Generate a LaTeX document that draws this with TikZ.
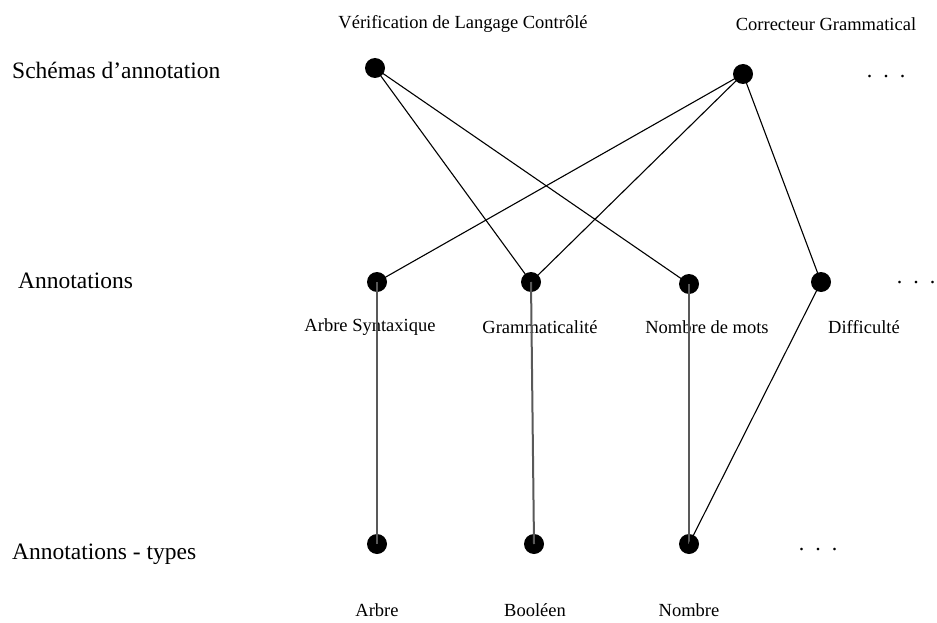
\documentclass[tikz,border=0pt]{standalone}
\usepackage{fontspec}
\setmainfont{Liberation Serif}
\usetikzlibrary{positioning}

\begin{document}
\begin{tikzpicture}[
    x=1pt, y=-1pt,
    dot/.style={circle, fill=black, inner sep=0pt, minimum width=18pt, minimum height=20pt},
    rowlabel/.style={anchor=west, inner sep=0pt, font=\fontsize{23.5}{27}\selectfont},
    lbl/.style={inner sep=0pt, font=\fontsize{18.5}{22}\selectfont},
    more/.style={inner sep=0pt, font=\fontsize{22}{26}\selectfont},
    link/.style={black, line width=1.1pt},
    typelink/.style={black!65, line width=2pt}
]
\useasboundingbox (0,0) rectangle (937,623);

% Rows
\node[rowlabel] (schemas) at (12,70) {Schémas d'annotation};
\node[rowlabel] (annot) at (18,281) {Annotations};
\node[rowlabel] (types) at (12,554) {Annotations - types};

% Annotation schemes
\node[dot] (vlc) at (375,68) {};
\node[dot] (cg) at (743,74) {};
\node[more] (moreS) at (886,77) {.\ \ .\ \ .};
\node[lbl] (vlcL) at (463,24) {Vérification de Langage Contrôlé};
\node[lbl] (cgL) at (826,24) {Correcteur Grammatical};

% Annotations
\node[dot] (syn) at (377,282) {};
\node[dot] (gram) at (531,282) {};
\node[dot] (nmots) at (689,284) {};
\node[dot] (diff) at (821,282) {};
\node[more] (moreA) at (916,283) {.\ \ .\ \ .};
\node[lbl] (synL) at (370,327) {Arbre Syntaxique};
\node[lbl] (gramL) at (540,327) {Grammaticalité};
\node[lbl] (nmotsL) at (707,327) {Nombre de mots};
\node[lbl] (diffL) at (864,327) {Difficulté};

% Types
\node[dot] (arbre) at (377,544) {};
\node[dot] (bool) at (534,544) {};
\node[dot] (nombre) at (689,544) {};
\node[more] (moreT) at (818,550) {.\ \ .\ \ .};
\node[lbl] (arbreL) at (377,610) {Arbre};
\node[lbl] (boolL) at (535,610) {Booléen};
\node[lbl] (nombreL) at (689,610) {Nombre};

% Connections
\draw[link] (vlc.center) -- (gram.center);
\draw[link] (vlc.center) -- (nmots.center);
\draw[link] (cg.center) -- (syn.center);
\draw[link] (cg.center) -- (gram.center);
\draw[link] (cg.center) -- (diff.center);
\draw[typelink] (syn.center) -- (arbre.center);
\draw[typelink] (gram.center) -- (bool.center);
\draw[typelink] (nmots.center) -- (nombre.center);
\draw[link] (diff.center) -- (nombre.center);

\end{tikzpicture}
\end{document}
